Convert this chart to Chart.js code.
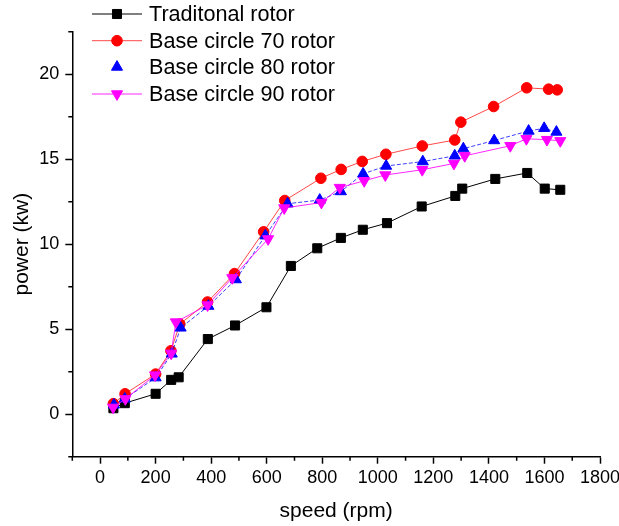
<!DOCTYPE html>
<html>
<head>
<meta charset="utf-8">
<script src="https://cdn.jsdelivr.net/npm/chart.js@4.4.1/dist/chart.umd.min.js"></script>
<style>
  html, body { margin: 0; padding: 0; background: #ffffff; }
  #wrap { width: 619px; height: 526px; position: relative; }
</style>
</head>
<body>
<div id="wrap"><canvas id="c" width="619" height="526"></canvas></div>
<script>
// ---- data ----
const seriesNames = ['Traditonal rotor', 'Base circle 70 rotor', 'Base circle 80 rotor', 'Base circle 90 rotor'];

const speedTrad = [48, 89, 200, 256, 283, 388, 486, 599, 687, 782, 867, 946, 1033, 1158, 1279, 1304, 1423, 1538, 1601, 1657];
const powerTrad = [0.35, 0.65, 1.2, 2.02, 2.17, 4.42, 5.22, 6.29, 8.72, 9.76, 10.37, 10.85, 11.24, 12.22, 12.84, 13.27, 13.84, 14.19, 13.27, 13.2];

const speed70 = [48, 90, 200, 255, 287, 387, 484, 589, 665, 795, 868, 944, 1029, 1160, 1277, 1299, 1417, 1536, 1615, 1646];
const power70 = [0.62, 1.2, 2.36, 3.73, 5.3, 6.6, 8.27, 10.73, 12.57, 13.88, 14.4, 14.87, 15.29, 15.78, 16.13, 17.18, 18.1, 19.2, 19.12, 19.08];

const speed80 = [50, 89, 200, 258, 290, 390, 489, 595, 675, 791, 867, 947, 1030, 1162, 1277, 1308, 1419, 1543, 1599, 1643];
const power80 = [0.55, 0.9, 2.15, 3.55, 5.08, 6.36, 7.92, 10.5, 12.38, 12.6, 13.1, 14.14, 14.6, 14.86, 15.2, 15.62, 16.1, 16.66, 16.82, 16.6];

const speed90 = [47, 91, 198, 256, 273, 387, 476, 605, 663, 797, 863, 951, 1027, 1160, 1274, 1313, 1477, 1535, 1609, 1657];
const power90 = [0.4, 0.9, 2.3, 3.58, 5.42, 6.42, 8.02, 10.31, 12.13, 12.45, 13.33, 13.73, 14.07, 14.38, 14.75, 15.2, 15.79, 16.2, 16.15, 16.08];

const xTickMin = -100, xTickMax = 1800, xMajorStep = 200, xMinorStep = 100;
const yTickMin = -2.5, yTickMax = 22.5, yMajorStep = 5, yMinorStep = 2.5;
const xTitle = 'speed (rpm)';
const yTitle = 'power (kw)';

// ---- styling ----
const FONT = "'Liberation Sans', Arial, Helvetica, sans-serif";
Chart.defaults.font.family = FONT;
Chart.defaults.color = '#000';

function pts(xs, ys) { return xs.map((x, i) => ({ x: x, y: ys[i] })); }

const styles = [
  { line: '#000000', fill: '#000000', style: 'rect', radius: 6.4, rotation: 0, dash: [], legendLine: true },
  { line: 'rgba(255,40,40,0.85)', fill: '#ff0000', style: 'circle', radius: 5.3, rotation: 0, dash: [], legendLine: true },
  { line: 'rgba(0,0,255,0.75)', fill: '#0000ff', style: 'triangle', radius: 6.4, rotation: 0, dash: [4, 2], legendLine: false },
  { line: 'rgba(255,0,255,0.85)', fill: '#ff00ff', style: 'triangle', radius: 6.4, rotation: 180, dash: [], legendLine: true }
];
const dataSets = [pts(speedTrad, powerTrad), pts(speed70, power70), pts(speed80, power80), pts(speed90, power90)];

const datasets = dataSets.map((d, i) => ({
  label: seriesNames[i],
  data: d,
  showLine: true,
  borderColor: styles[i].line,
  borderWidth: 1,
  borderDash: styles[i].dash,
  backgroundColor: styles[i].fill,
  pointBackgroundColor: styles[i].fill,
  pointBorderColor: styles[i].fill,
  pointBorderWidth: 1,
  pointStyle: styles[i].style,
  pointRadius: styles[i].radius,
  pointRotation: styles[i].rotation,
  pointHoverRadius: styles[i].radius,
  tension: 0,
  order: 4 - i
}));

function drawMarker(ctx, st, x, y) {
  if (Chart.helpers && Chart.helpers.drawPoint) {
    ctx.save();
    ctx.fillStyle = st.fill;
    ctx.strokeStyle = st.fill;
    ctx.lineWidth = 1;
    Chart.helpers.drawPoint(ctx, { pointStyle: st.style, radius: st.radius, rotation: st.rotation, borderWidth: 1 }, x, y);
    ctx.restore();
  }
}

const axesPlugin = {
  id: 'axesPlugin',
  beforeDraw(chart) {
    const ctx = chart.ctx;
    ctx.save();
    ctx.fillStyle = '#ffffff';
    ctx.fillRect(0, 0, chart.width, chart.height);
    ctx.restore();
  },
  afterDraw(chart) {
    const ctx = chart.ctx;
    const xs = chart.scales.x, ys = chart.scales.y;
    const area = chart.chartArea;
    ctx.save();
    ctx.strokeStyle = '#000';
    ctx.lineWidth = 1.5;
    ctx.beginPath();
    // minor ticks
    for (let v = xTickMin; v <= xTickMax + 1e-9; v += xMinorStep) {
      if (Math.abs(v % xMajorStep) < 1e-9) continue;
      const px = xs.getPixelForValue(v);
      ctx.moveTo(px, area.bottom);
      ctx.lineTo(px, area.bottom + 4);
    }
    for (let v = yTickMin; v <= yTickMax + 1e-9; v += yMinorStep) {
      if (Math.abs(v % yMajorStep) < 1e-9) continue;
      const py = ys.getPixelForValue(v);
      ctx.moveTo(area.left - 4, py);
      ctx.lineTo(area.left, py);
    }
    ctx.stroke();
    ctx.restore();

    // legend
    const rowY = [14, 40.7, 67, 94];
    const lineX0 = 92, lineX1 = 142, markX = 117, textX = 149;
    ctx.save();
    ctx.font = '21.6px ' + FONT;
    ctx.textBaseline = 'middle';
    ctx.textAlign = 'left';
    styles.forEach((st, i) => {
      const y = rowY[i];
      if (st.legendLine) {
        ctx.save();
        ctx.strokeStyle = st.line;
        ctx.lineWidth = 1;
        ctx.beginPath();
        ctx.moveTo(lineX0, y);
        ctx.lineTo(lineX1, y);
        ctx.stroke();
        ctx.restore();
      }
      drawMarker(ctx, st, markX, y);
      ctx.fillStyle = '#000';
      ctx.fillText(seriesNames[i], textX, y + 1);
    });
    ctx.restore();
  }
};

function majorColor(step) {
  return (c) => (c.tick && Math.abs(c.tick.value % step) < 1e-9) ? '#000' : 'rgba(0,0,0,0)';
}

new Chart(document.getElementById('c'), {
  type: 'scatter',
  data: { datasets: datasets },
  options: {
    responsive: false,
    animation: false,
    events: [],
    layout: { padding: { top: 31.7, right: 19, bottom: 0, left: 0 } },
    plugins: { legend: { display: false }, tooltip: { enabled: false } },
    scales: {
      x: {
        type: 'linear',
        min: xTickMin, max: xTickMax,
        ticks: {
          stepSize: xMinorStep,
          autoSkip: false,
          maxRotation: 0,
          padding: 4,
          color: '#000',
          font: { size: 18 },
          callback: (v) => (Math.abs(v % xMajorStep) < 1e-9 ? String(v) : '')
        },
        grid: { display: true, drawOnChartArea: false, drawTicks: true, tickLength: 7, tickWidth: 1.5, tickColor: majorColor(xMajorStep) },
        border: { display: true, color: '#000', width: 1.5 },
        title: { display: true, text: xTitle, color: '#000', font: { size: 21 }, padding: { top: 4, bottom: 2.5 } },
        afterFit(s) { s.height = 69.3; s.paddingLeft = 0; s.paddingRight = 0; s.paddingTop = 0; s.paddingBottom = 0; }
      },
      y: {
        type: 'linear',
        min: yTickMin, max: yTickMax,
        ticks: {
          stepSize: yMinorStep,
          autoSkip: false,
          padding: 6,
          color: '#000',
          font: { size: 18 },
          callback: (v) => (Math.abs(v % yMajorStep) < 1e-9 ? String(v) : '')
        },
        grid: { display: true, drawOnChartArea: false, drawTicks: true, tickLength: 7, tickWidth: 1.5, tickColor: majorColor(yMajorStep) },
        border: { display: true, color: '#000', width: 1.5 },
        title: { display: true, text: yTitle, color: '#000', font: { size: 21 }, padding: { top: 10, bottom: 4 } },
        afterFit(s) { s.width = 72.3; s.paddingLeft = 0; s.paddingRight = 0; s.paddingTop = 0; s.paddingBottom = 0; }
      }
    }
  },
  plugins: [axesPlugin]
});
</script>
</body>
</html>
